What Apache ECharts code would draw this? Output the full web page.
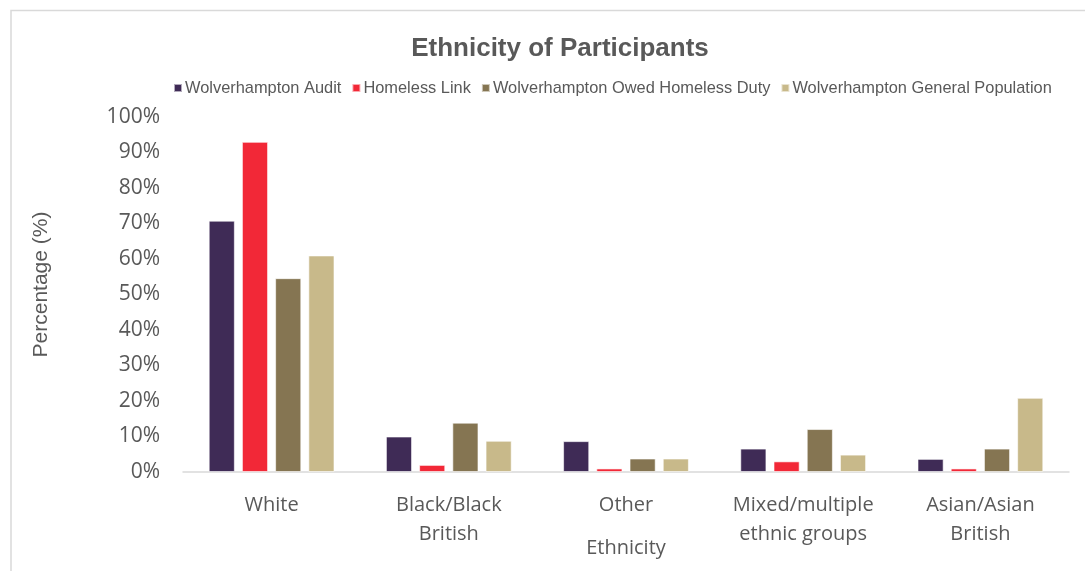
<!DOCTYPE html>
<html>
<head>
<meta charset="utf-8">
<script src="https://cdn.jsdelivr.net/npm/echarts@6/dist/echarts.min.js"></script>
<style>
  html, body { margin: 0; padding: 0; background: #fff; }
  #chart { width: 1085px; height: 571px; }
</style>
</head>
<body>
<div id="chart"></div>
<script>
// Ethnic groups shown on the category axis
const categories = ['White', 'Black/Black\nBritish', 'Other', 'Mixed/multiple\nethnic groups', 'Asian/Asian\nBritish'];

// Percentage of each group, per data source
const wolverhamptonAudit = [70.8, 10.0, 8.7, 6.6, 3.7];
const homelessLink = [93, 2, 1, 3, 1];
const owedHomelessDuty = [54.6, 13.9, 3.8, 12.1, 6.6];
const generalPopulation = [61, 8.8, 3.8, 4.9, 20.9];

const seriesNames = [
  'Wolverhampton Audit',
  'Homeless Link',
  'Wolverhampton Owed Homeless Duty',
  'Wolverhampton General Population'
];
const seriesData = [wolverhamptonAudit, homelessLink, owedHomelessDuty, generalPopulation];
const seriesColors = ['#3f2b56', '#f22837', '#857552', '#c8b98a'];

const textGrey = '#595959';

const chart = echarts.init(document.getElementById('chart'));
chart.setOption({
  animation: false,
  backgroundColor: '#ffffff',
  graphic: [{
    type: 'rect',
    shape: { x: 11, y: 10.5, width: 1200, height: 700 },
    style: { fill: 'none', stroke: '#d9d9d9', lineWidth: 1.5 },
    silent: true,
    z: -1
  }],
  title: {
    text: 'Ethnicity of Participants',
    left: 555,
    textAlign: 'center',
    top: 31,
    textStyle: {
      fontFamily: 'Liberation Sans',
      fontWeight: 'bold',
      fontSize: 26,
      color: textGrey
    }
  },
  legend: {
    data: seriesNames,
    left: 168,
    top: 75,
    itemWidth: 8,
    itemHeight: 8,
    itemGap: 10,
    icon: 'rect',
    textStyle: {
      fontFamily: 'Liberation Sans',
      fontSize: 16.4,
      color: textGrey,
      padding: [0, 0, 0, -2]
    }
  },
  grid: {
    left: 183,
    right: 16,
    top: 117,
    bottom: 99,
    containLabel: false,
    outerBoundsMode: 'none'
  },
  xAxis: {
    type: 'category',
    data: categories,
    name: 'Ethnicity',
    nameLocation: 'middle',
    nameGap: 66,
    nameMoveOverlap: false,
    nameTextStyle: { fontFamily: 'Open Sans', fontSize: 20, color: textGrey },
    axisLine: { lineStyle: { color: '#d9d9d9', width: 1.5 } },
    axisTick: { show: false },
    axisLabel: {
      interval: 0,
      margin: 19,
      fontFamily: 'Open Sans',
      fontSize: 20,
      lineHeight: 29,
      color: textGrey
    }
  },
  yAxis: {
    type: 'value',
    min: 0,
    max: 100,
    interval: 10,
    name: 'Percentage (%)',
    nameLocation: 'middle',
    nameGap: 131,
    nameMoveOverlap: false,
    nameTextStyle: {
      fontFamily: 'Liberation Sans',
      fontSize: 21,
      color: textGrey,
      padding: [0, 0, 0, 20]
    },
    axisLine: { show: false },
    axisTick: { show: false },
    splitLine: { show: false },
    axisLabel: {
      margin: 23,
      fontFamily: 'Open Sans',
      fontSize: 21,
      color: textGrey,
      formatter: '{value}%'
    }
  },
  series: seriesNames.map((name, i) => ({
    name: name,
    type: 'bar',
    data: seriesData[i],
    barGap: '27%',
    barCategoryGap: '29%',
    itemStyle: {
      color: seriesColors[i],
      borderColor: 'rgba(255,255,255,0.6)',
      borderWidth: 1
    }
  }))
});
</script>
</body>
</html>
